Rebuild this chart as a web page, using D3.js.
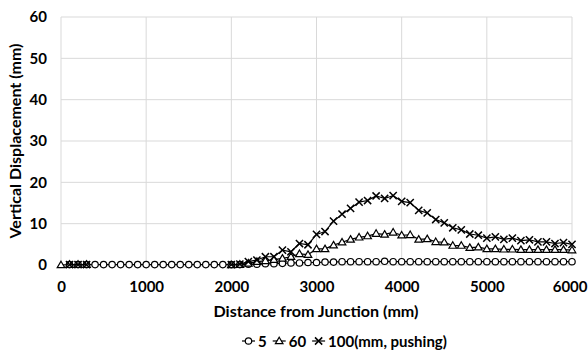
<!DOCTYPE html>
<html>
<head>
<meta charset="utf-8">
<script src="https://cdn.jsdelivr.net/npm/d3@7"></script>
<style>
  body { margin: 0; background: #fff; }
  text { font-family: Lato, "Open Sans", sans-serif; font-weight: bold; fill: #000; }
</style>
</head>
<body>
<script>
var distance = [0,100,200,300,400,500,600,700,800,900,1000,1100,1200,1300,1400,1500,1600,1700,1800,1900,
  2000,2100,2200,2300,2400,2500,2600,2700,2800,2900,3000,3100,3200,3300,3400,3500,3600,3700,3800,3900,
  4000,4100,4200,4300,4400,4500,4600,4700,4800,4900,5000,5100,5200,5300,5400,5500,5600,5700,5800,5900,6000];

var s5 = [null,0.1,0.1,0.1,0.1,0.1,0.1,0.1,0.1,0.1,0.1,0.1,0.1,0.1,0.1,0.1,0.1,0.1,0.1,0.1,
  0.1,0.1,0.2,0.2,0.3,0.3,0.4,0.5,0.5,0.6,0.6,0.7,0.7,0.8,0.8,0.8,0.8,0.8,0.9,0.8,
  0.8,0.8,0.8,0.8,0.8,0.8,0.8,0.8,0.8,0.8,0.8,0.8,0.8,0.8,0.8,0.8,0.8,0.8,0.8,0.8,0.8];

var s60 = [0,0.1,0.1,0.1,null,null,null,null,null,null,null,null,null,null,null,null,null,null,null,null,
  0,0.1,0.4,0.8,1.0,1.3,1.6,2.0,2.7,2.5,3.9,3.9,4.8,5.5,6.2,6.7,7.0,7.6,7.4,7.9,
  7.2,7.3,6.2,6.3,5.6,5.5,4.7,4.7,4.2,4.3,3.9,3.9,3.8,3.8,3.7,3.7,3.7,3.7,3.7,3.7,3.6];

var s100 = [null,0.1,0.1,0.1,null,null,null,null,null,null,null,null,null,null,null,null,null,null,null,null,
  0.1,0.2,0.8,1.2,2.0,2.0,3.6,3.2,5.2,4.9,7.4,8.1,10.6,12.3,13.7,15.2,15.6,16.7,16.1,16.8,
  15.4,15.1,13.2,12.6,11.0,10.2,9.0,8.5,7.5,7.2,6.5,6.8,6.2,6.5,5.9,6.1,5.6,5.6,5.2,5.4,5.0];

var seriesNames = ["5", "60", "100(mm, pushing)"];
var seriesMarkers = ["circle", "triangle", "cross"];
var xTicks = [0,1000,2000,3000,4000,5000,6000];
var yTicks = [0,10,20,30,40,50,60];

var width = 588, height = 350;
var margin = {left: 61, right: 16, top: 17, bottom: 85};

var svg = d3.select("body").append("svg").attr("width", width).attr("height", height);

var x = d3.scaleLinear().domain([0, 6000]).range([margin.left, width - margin.right]);
var y = d3.scaleLinear().domain([0, 60]).range([height - margin.bottom, margin.top]);

// grid
svg.append("g").selectAll("line").data(yTicks).enter().append("line")
  .attr("x1", x(0)).attr("x2", x(6000))
  .attr("y1", function(d){ return y(d); }).attr("y2", function(d){ return y(d); })
  .attr("stroke", "#d9d9d9").attr("stroke-width", 1);
svg.append("g").selectAll("line").data(xTicks).enter().append("line")
  .attr("y1", y(0)).attr("y2", y(60))
  .attr("x1", function(d){ return x(d); }).attr("x2", function(d){ return x(d); })
  .attr("stroke", "#d9d9d9").attr("stroke-width", 1);

// axes
var yAxis = d3.axisLeft(y).tickValues(yTicks).tickFormat(d3.format("d")).tickSize(0).tickPadding(14);
var xAxis = d3.axisBottom(x).tickValues(xTicks).tickFormat(d3.format("d")).tickSize(0).tickPadding(16);
var gy = svg.append("g").attr("transform", "translate(" + margin.left + ",0)").call(yAxis);
var gx = svg.append("g").attr("transform", "translate(0," + y(0) + ")").call(xAxis);
[gx, gy].forEach(function(g){
  g.select(".domain").remove();
  g.selectAll("text").style("font-size", "15px").style("font-family", "Lato, sans-serif").style("font-weight", "bold");
});
// last label would run past the right edge
gx.selectAll(".tick").filter(function(d){ return d === 6000; }).select("text")
  .attr("text-anchor", "end").attr("x", 15);

svg.append("text")
  .attr("text-anchor", "middle")
  .attr("x", 316).attr("y", 317)
  .attr("textLength", 205).attr("lengthAdjust", "spacingAndGlyphs")
  .style("font-size", "15px")
  .text("Distance from Junction (mm)");

svg.append("text")
  .attr("text-anchor", "middle")
  .attr("transform", "translate(21," + 141 + ")rotate(-90)")
  .attr("textLength", 195).attr("lengthAdjust", "spacingAndGlyphs")
  .style("font-size", "15px")
  .text("Vertical Displacement (mm)");

function drawMarker(g, type, cx, cy) {
  if (type === "circle") {
    g.append("circle").attr("cx", cx).attr("cy", cy).attr("r", 3.2)
      .attr("fill", "#fff").attr("stroke", "#000").attr("stroke-width", 1.2);
  } else if (type === "triangle") {
    g.append("path")
      .attr("d", "M" + cx + "," + (cy - 3.8) + "L" + (cx + 3.8) + "," + (cy + 2.7) + "L" + (cx - 3.8) + "," + (cy + 2.7) + "Z")
      .attr("fill", "#fff").attr("stroke", "#000").attr("stroke-width", 1.2);
  } else {
    g.append("path")
      .attr("d", "M" + (cx - 3.6) + "," + (cy - 3.6) + "L" + (cx + 3.6) + "," + (cy + 3.6) +
                 "M" + (cx + 3.6) + "," + (cy - 3.6) + "L" + (cx - 3.6) + "," + (cy + 3.6))
      .attr("fill", "none").attr("stroke", "#000").attr("stroke-width", 1.5);
  }
}

var allSeries = [s5, s60, s100];
var line = d3.line()
  .defined(function(d){ return d[1] !== null; })
  .x(function(d){ return x(d[0]); })
  .y(function(d){ return y(d[1]); });

allSeries.forEach(function(vals, i) {
  var pts = distance.map(function(d, j){ return [d, vals[j]]; });
  var g = svg.append("g");
  g.append("path").attr("d", line(pts)).attr("fill", "none").attr("stroke", "#000").attr("stroke-width", 1.2);
  pts.forEach(function(p){
    if (p[1] !== null) drawMarker(g, seriesMarkers[i], x(p[0]), y(p[1]));
  });
});

// legend
var leg = svg.append("g");
var lx = 242, ly = 341;
seriesNames.forEach(function(name, i) {
  leg.append("line").attr("x1", lx).attr("x2", lx + 13).attr("y1", ly).attr("y2", ly)
    .attr("stroke", "#000").attr("stroke-width", 1.2);
  drawMarker(leg, seriesMarkers[i], lx + 6.5, ly);
  var t = leg.append("text").attr("x", lx + 16).attr("y", ly + 5.5)
    .style("font-size", "15px").text(name);
  lx += 16 + t.node().getComputedTextLength() + 6;
});
</script>
</body>
</html>
